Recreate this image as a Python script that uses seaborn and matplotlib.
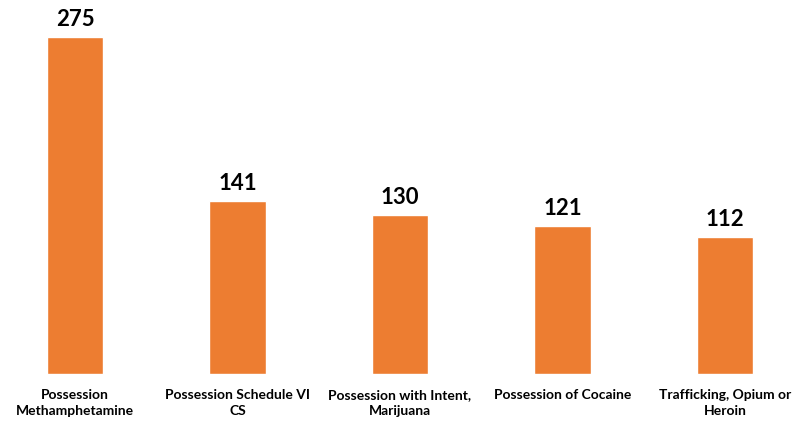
from matplotlib import pyplot as plt
from matplotlib import font_manager
import seaborn as sns
import pandas as pd

categories = ['Possession\nMethamphetamine', 'Possession Schedule VI\nCS',
              'Possession with Intent,\nMarijuana', 'Possession of Cocaine',
              'Trafficking, Opium or\nHeroin']
counts = [275, 141, 130, 121, 112]

df = pd.DataFrame({'offense': categories, 'count': counts})

sns.set_style('white')
names = {f.name for f in font_manager.fontManager.ttflist}
family = 'Lato' if 'Lato' in names else 'DejaVu Sans'
plt.rcParams['font.family'] = [family, 'DejaVu Sans']

fig = plt.figure(figsize=(8.11, 4.23), dpi=100)
ax = fig.add_axes([0, 1 - 374 / 423, 1, 374 / 423])
sns.barplot(data=df, x='offense', y='count', color='#ED7D31', saturation=1,
            width=0.35, ax=ax)
ax.bar_label(ax.containers[0], fontsize=16, fontweight='bold', padding=5,
             color='black')
ax.set_xlim(-75 / 162.5, 4 + 86 / 162.5)
ax.set_ylim(0, 275 * 374 / 337)
ax.set_yticks([])
ax.set_xlabel('')
ax.set_ylabel('')
ax.tick_params(axis='x', length=0, pad=11)
for lbl in ax.get_xticklabels():
    lbl.set_fontsize(10)
    lbl.set_fontweight('bold')
    lbl.set_color('black')
    lbl.set_linespacing(1.35)
sns.despine(ax=ax, left=True, bottom=True)

fig.savefig('out.png', dpi=100)
